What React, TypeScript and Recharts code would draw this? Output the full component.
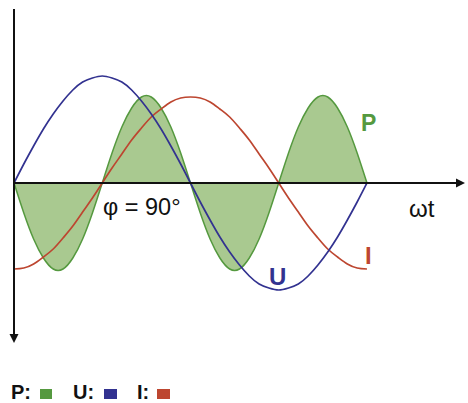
import React from 'react';
import { ComposedChart, Area, Line, XAxis, YAxis, ReferenceLine } from 'recharts';

const degrees = [0,10,20,30,40,50,60,70,80,90,100,110,120,130,140,150,160,170,180,190,200,210,220,230,240,250,260,270,280,290,300,310,320,330,340,350,360];
const uValues = [0,19,37,54,69,82,93,101,105,107,105,101,93,82,69,54,37,19,0,-19,-37,-54,-69,-82,-93,-101,-105,-107,-105,-101,-93,-82,-69,-54,-37,-19,0];
const iValues = [-86,-85,-81,-74,-66,-55,-43,-29,-15,0,15,29,43,55,66,74,81,85,86,85,81,74,66,55,43,29,15,0,-15,-29,-43,-55,-66,-74,-81,-85,-86];
const pValues = [0,-30,-56,-75,-86,-86,-75,-56,-30,0,30,56,75,86,86,75,56,30,0,-30,-56,-75,-86,-86,-75,-56,-30,0,30,56,75,86,86,75,56,30,0];

const data = degrees.map((d, i) => ({ deg: d, U: uValues[i], I: iValues[i], P: pValues[i] }));

const GREEN = '#55993f';
const GREEN_FILL = '#a9c990';
const BLUE = '#323290';
const RED = '#bd4630';
const FONT = '"Liberation Sans", Arial, Helvetica, sans-serif';

const HArrow = (props: any) => {
  const x1 = Math.min(props.x1, props.x2);
  const x2 = Math.max(props.x1, props.x2);
  const y = props.y1;
  return (
    <g>
      <line x1={x1} y1={y} x2={x2 - 6} y2={y} stroke="#111" strokeWidth={2} />
      <polygon points={`${x2},${y} ${x2 - 9},${y - 4.5} ${x2 - 9},${y + 4.5}`} fill="#111" />
    </g>
  );
};

const VArrow = (props: any) => {
  const y1 = Math.min(props.y1, props.y2);
  const y2 = Math.max(props.y1, props.y2);
  const x = props.x1;
  return (
    <g>
      <line x1={x} y1={y1} x2={x} y2={y2 - 6} stroke="#111" strokeWidth={2} />
      <polygon points={`${x},${y2} ${x - 4.5},${y2 - 9} ${x + 4.5},${y2 - 9}`} fill="#111" />
    </g>
  );
};

export default function App() {
  return (
    <div style={{ position: 'absolute', left: 0, top: 0 }}>
      <ComposedChart width={468} height={403} data={data} margin={{ top: 9, right: 3, bottom: 60, left: 14 }}>
        <XAxis type="number" dataKey="deg" domain={[0, 460]} hide />
        <YAxis type="number" domain={[-160, 174]} hide />
        <Area type="natural" dataKey="P" baseValue={0} stroke={GREEN} strokeWidth={1.5} fill={GREEN_FILL} fillOpacity={1} isAnimationActive={false} dot={false} activeDot={false} />
        <Line type="natural" dataKey="I" stroke={RED} strokeWidth={1.7} dot={false} activeDot={false} isAnimationActive={false} />
        <Line type="natural" dataKey="U" stroke={BLUE} strokeWidth={1.7} dot={false} activeDot={false} isAnimationActive={false} />
        <ReferenceLine y={0} segment={[{ x: 0, y: 0 }, { x: 460, y: 0 }]} shape={HArrow} ifOverflow="extendDomain" />
        <ReferenceLine x={0} segment={[{ x: 0, y: 174 }, { x: 0, y: -160 }]} shape={VArrow} ifOverflow="extendDomain" />
        <text x={103} y={215} fontFamily={FONT} fontSize={23.5} fill="#111">φ = 90°</text>
        <text x={409} y={217} fontFamily={FONT} fontSize={24} fill="#111">ωt</text>
        <text x={361} y={131} fontFamily={FONT} fontSize={23} fontWeight="bold" fill={GREEN}>P</text>
        <text x={269} y={285} fontFamily={FONT} fontSize={24} fontWeight="bold" fill={BLUE}>U</text>
        <text x={365} y={264} fontFamily={FONT} fontSize={24} fontWeight="bold" fill={RED}>I</text>
        <text x={11} y={399} fontFamily={FONT} fontSize={20} fontWeight="bold" fill="#111">P:</text>
        <rect x={40} y={389} width={12} height={10} fill={GREEN} />
        <text x={73} y={399} fontFamily={FONT} fontSize={20} fontWeight="bold" fill="#111">U:</text>
        <rect x={104} y={389} width={13} height={10} fill={BLUE} />
        <text x={137} y={399} fontFamily={FONT} fontSize={20} fontWeight="bold" fill="#111">I:</text>
        <rect x={157} y={389} width={13} height={10} fill={RED} />
      </ComposedChart>
    </div>
  );
}
